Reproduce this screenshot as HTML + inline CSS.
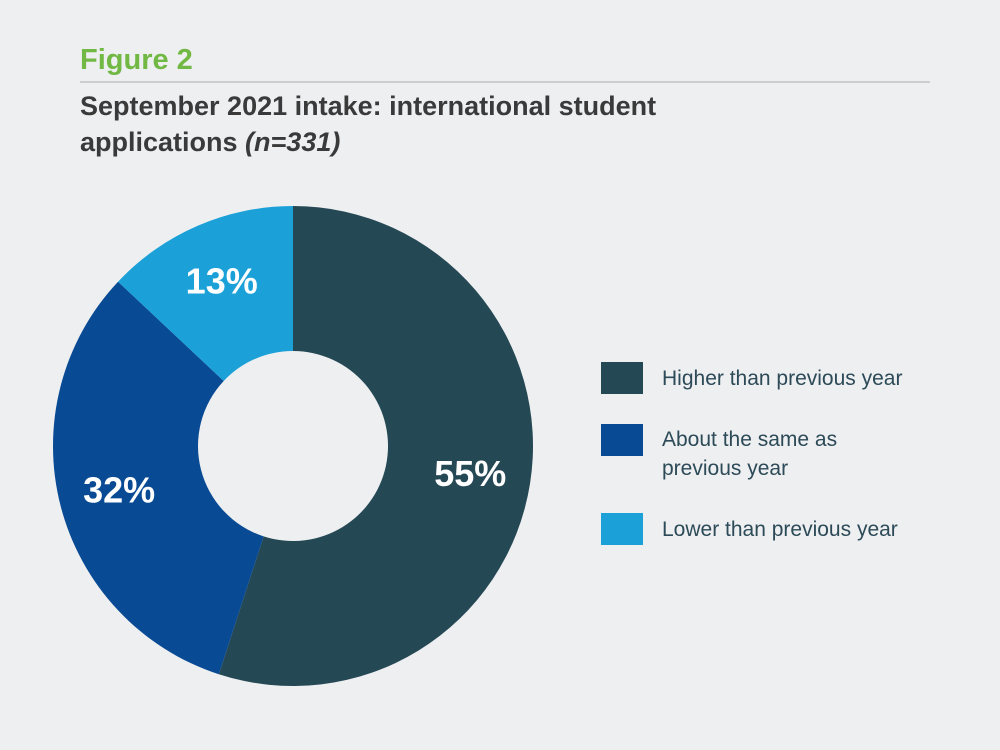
<!DOCTYPE html>
<html><head><meta charset="utf-8"><style>
body{margin:0;background:#eeeff1;font-family:"Liberation Sans",sans-serif;}
#wrap{position:relative;width:1000px;height:750px;overflow:hidden;}
</style></head><body>
<div id="wrap">
<svg width="1000" height="750" id="svg">
<text x="80" y="69" font-size="29" font-weight="bold" fill="#72b844">Figure 2</text>
<line x1="80" y1="82" x2="930" y2="82" stroke="#bfc3c6" stroke-width="1.5"/>
<text x="80" y="115" font-size="27" font-weight="bold" fill="#3a3a3a">September 2021 intake: international student</text>
<text x="80" y="151" font-size="27" font-weight="bold" fill="#3a3a3a">applications <tspan font-style="italic">(n=331)</tspan></text>
<g id="slices"></g>
<g id="legend"></g>
</svg>
</div>
<script>
const categories=["Higher than previous year","About the same as previous year","Lower than previous year"];
const values=[55,32,13];
const labels=["55%","32%","13%"];
const colors=["#254855","#084a94","#1ba1d8"];
const ns="http://www.w3.org/2000/svg";
const cx=293,cy=446,R=240,r=95;
const total=values.reduce((a,b)=>a+b,0);
function pt(a,rad){return [cx+rad*Math.sin(a),cy-rad*Math.cos(a)];}
let a0=0;
const g=document.getElementById('slices');
values.forEach((v,i)=>{
  const a1=a0+v/total*2*Math.PI;
  const large=(a1-a0)>Math.PI?1:0;
  const [x0,y0]=pt(a0,R),[x1,y1]=pt(a1,R),[x2,y2]=pt(a1,r),[x3,y3]=pt(a0,r);
  const p=document.createElementNS(ns,'path');
  p.setAttribute('d',`M${x0},${y0}A${R},${R} 0 ${large} 1 ${x1},${y1}L${x2},${y2}A${r},${r} 0 ${large} 0 ${x3},${y3}Z`);
  p.setAttribute('fill',colors[i]);
  
  
  g.appendChild(p);
  const m=(a0+a1)/2;const [lx,ly]=pt(m,(R+r)/2+12);
  const t=document.createElementNS(ns,'text');
  t.setAttribute('x',lx);t.setAttribute('y',ly+12);
  t.setAttribute('text-anchor','middle');t.setAttribute('font-size','36');
  t.setAttribute('font-weight','bold');t.setAttribute('fill','#fff');
  t.textContent=labels[i];
  
  
  g.appendChild(t);
  a0=a1;
});
const lg=document.getElementById('legend');
const legLines=[["Higher than previous year"],["About the same as","previous year"],["Lower than previous year"]];
const ys=[362,424,513];
legLines.forEach((lines,i)=>{
  const rc=document.createElementNS(ns,'rect');
  rc.setAttribute('x',601);rc.setAttribute('y',ys[i]);rc.setAttribute('width',42);rc.setAttribute('height',32);
  rc.setAttribute('fill',colors[i]);
  
  
  lg.appendChild(rc);
  lines.forEach((s,j)=>{
    const t=document.createElementNS(ns,'text');
    t.setAttribute('x',662);t.setAttribute('y',ys[i]+23+j*29-(lines.length>1?1:0));
    t.setAttribute('font-size','21');t.setAttribute('fill','#2c4a57');
    t.textContent=s;
    
    
    lg.appendChild(t);
  });
});
</script>
</body></html>
